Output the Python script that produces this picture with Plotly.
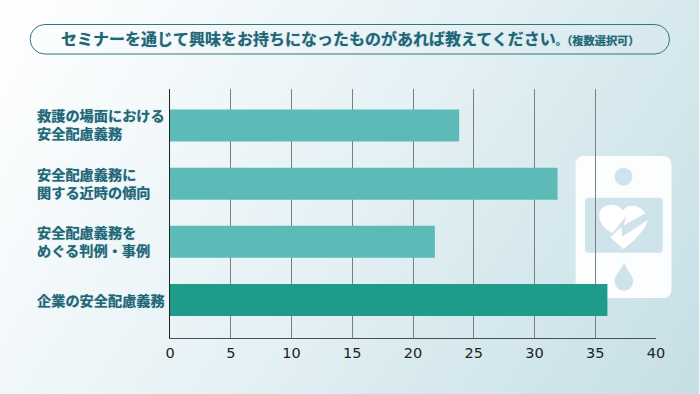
import base64
import plotly.graph_objects as go

categories = ["企業の安全配慮義務", "安全配慮義務を<br>めぐる判例・事例", "安全配慮義務に<br>関する近時の傾向", "救護の場面における<br>安全配慮義務"]
values = [36, 21.8, 31.9, 23.8]
bar_colors = ["#1E9C89", "#5DBBB7", "#5DBBB7", "#5DBBB7"]
x_ticks = [0, 5, 10, 15, 20, 25, 30, 35, 40]
title_main = "セミナーを通じて興味をお持ちになったものがあれば教えてください"
title_stop = "。"
title_note = "（複数選択可）"

W, H = 700, 394
L, R, T, B = 170, 656.5, 89, 338
TEXT = "#1F6677"
JP = "Noto Sans CJK JP"
SHADOW = "0 0 1px rgba(31,102,119,0.55)"

bg_svg = f"""<svg xmlns="http://www.w3.org/2000/svg" width="{W}" height="{H}">
<defs><linearGradient id="g" gradientUnits="userSpaceOnUse" x1="20" y1="-20" x2="680" y2="414">
<stop offset="0" stop-color="#ffffff"/><stop offset="0.5" stop-color="#e5f1f5"/><stop offset="1" stop-color="#c5dfe5"/>
</linearGradient></defs><rect width="{W}" height="{H}" fill="url(#g)"/>
<rect x="30" y="24.5" width="640" height="29.5" rx="14.75" fill="none" stroke="#2F7484" stroke-width="1"/>
<rect x="576" y="156" width="96" height="142" rx="8" fill="#ffffff" fill-opacity="0.93"/>
<g transform="translate(570,150) scale(0.3333)" fill="#cfe4ea">
<circle cx="162" cy="80" r="27"/>
<rect x="46" y="143" width="234" height="165" rx="12"/>
<path d="M108 236 C82 208 84 178 108 168 C128 160 150 166 160 182 C172 164 205 158 228 190 L163 226 L170 198 L128 250 Z" fill="#ffffff"/>
<path d="M122 262 L155 232 L158 260 L235 210 C225 245 190 275 162 297 Z" fill="#ffffff"/>
<path d="M163 337 C170 360 191 375 191 394 A28 28 0 0 1 135 394 C135 375 156 360 163 337 Z"/>
</g>
</svg>"""


def uri(svg):
    return "data:image/svg+xml;base64," + base64.b64encode(svg.encode("utf-8")).decode()


def xp(v):
    return (v - L) / (R - L)


def yp(v):
    return (B - v) / (B - T)


fig = go.Figure(go.Bar(x=values, y=list(range(len(categories))), orientation="h",
                       marker=dict(color=bar_colors, line_width=0), width=0.55,
                       hoverinfo="skip"))

unit = 58.17
y0 = 300
fig.update_layout(
    width=W, height=H, margin=dict(l=L, r=W - R, t=T, b=H - B), autosize=False,
    paper_bgcolor="rgba(0,0,0,0)", plot_bgcolor="rgba(0,0,0,0)", showlegend=False,
    font=dict(family=JP),
    xaxis=dict(range=[0, 40], tickvals=x_ticks, ticks="", showgrid=True, gridcolor="#7a7f82", gridwidth=1,
               zeroline=False, showline=True, linecolor="#4a4f52", linewidth=1,
               tickfont=dict(family="DejaVu Sans", size=14.5, color="#222222"), ticklabelstandoff=2),
    yaxis=dict(range=[-(B - y0) / unit, (y0 - T) / unit], tickvals=list(range(len(categories))),
               showticklabels=False, ticks="", showgrid=False, zeroline=False,
               showline=True, linecolor="#222222", linewidth=1),
    images=[dict(source=uri(bg_svg), xref="paper", yref="paper", x=xp(0), y=yp(0),
                 sizex=W / (R - L), sizey=H / (B - T), xanchor="left", yanchor="top",
                 sizing="stretch", layer="below")],
)

for i, label in enumerate(categories):
    fig.add_annotation(xref="paper", yref="y", x=xp(35), y=i, xanchor="left", yanchor="middle", align="left",
                       yshift=1 if "<br>" in label else 0,
                       text=label, showarrow=False,
                       font=dict(family=JP, size=14.2, color=TEXT, weight=700, shadow=SHADOW))

title_text = (title_main
              + f'<span style="font-size:11px">{title_stop}</span>'
              + f'<span style="font-size:11.2px">{title_note}</span>')
fig.add_annotation(xref="paper", yref="paper", x=xp(59), y=yp(38), xanchor="left", yanchor="middle",
                   text=title_text, showarrow=False,
                   font=dict(family=JP, size=16, color=TEXT, weight=700, shadow=SHADOW))

fig.write_html("out.html", config={"displayModeBar": False},
               post_script="document.body.style.margin='0';document.documentElement.style.overflow='hidden';")
